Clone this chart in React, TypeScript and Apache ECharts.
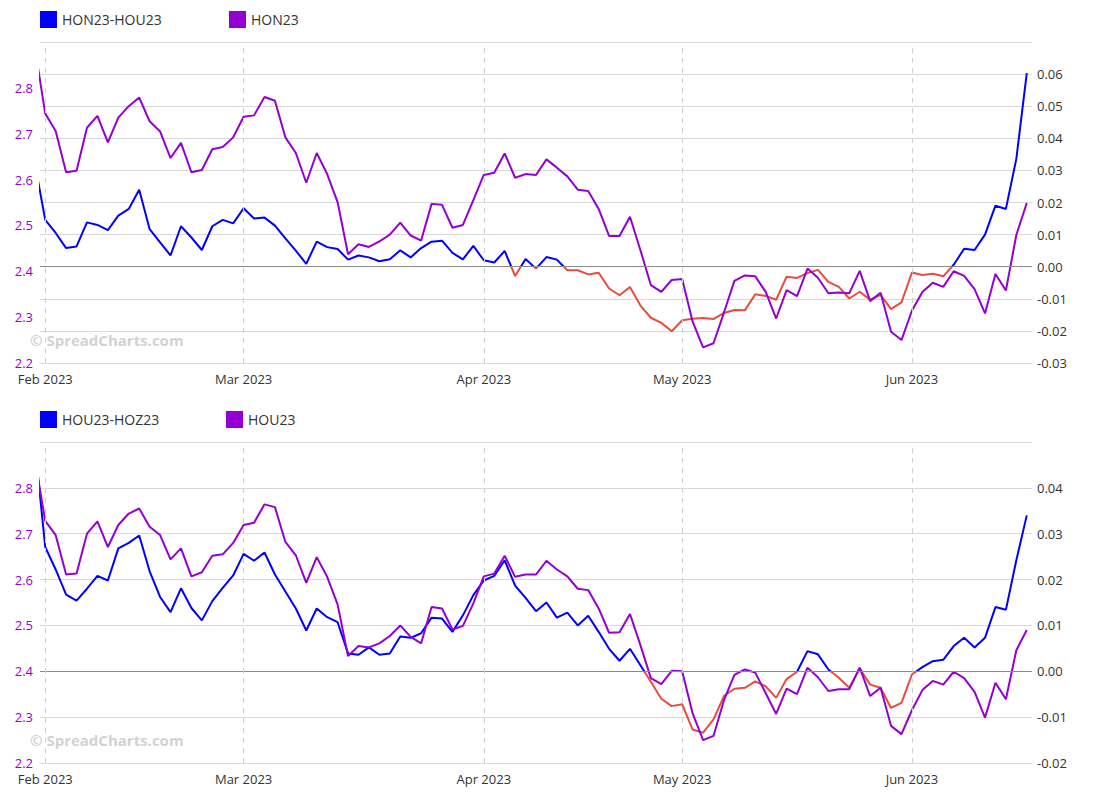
import React, { useEffect, useRef } from "react";
import * as echarts from "echarts";

// Trading days (NYMEX) 2023-01-31 .. 2023-06-16
const HOLIDAYS = ["2023-02-20", "2023-04-07", "2023-05-29"];
const MONTHS = ["Jan", "Feb", "Mar", "Apr", "May", "Jun", "Jul", "Aug", "Sep", "Oct", "Nov", "Dec"];
function tradingDays(start: string, end: string): string[] {
  const out: string[] = [];
  const d = new Date(start + "T00:00:00Z");
  const e = new Date(end + "T00:00:00Z");
  while (d <= e) {
    const s = d.toISOString().slice(0, 10);
    const wd = d.getUTCDay();
    if (wd !== 0 && wd !== 6 && HOLIDAYS.indexOf(s) < 0) out.push(s);
    d.setUTCDate(d.getUTCDate() + 1);
  }
  return out;
}
const dates = tradingDays("2023-01-31", "2023-06-16");

const topSpreadName = "HON23-HOU23";
const topPriceName = "HON23";
const bottomSpreadName = "HOU23-HOZ23";
const bottomPriceName = "HOU23";

const topSpread = [
  0.0323, 0.0146, 0.0105, 0.0058, 0.0063, 0.0138, 0.013, 0.0114, 0.0159, 0.018,
  0.024, 0.0117, 0.0076, 0.0035, 0.0126, 0.0091, 0.0052, 0.0126, 0.0146, 0.0135,
  0.0182, 0.015, 0.0153, 0.0128, 0.0088, 0.005, 0.0009, 0.0078, 0.0061, 0.0055,
  0.0022, 0.0035, 0.0029, 0.0017, 0.0023, 0.0051, 0.0029, 0.0058, 0.0078, 0.0081,
  0.0043, 0.0023, 0.0065, 0.002, 0.0013, 0.0049, -0.0029, 0.0024, -0.0006, 0.003,
  0.0022, -0.0011, -0.0011, -0.0024, -0.0019, -0.0068, -0.0089, -0.0063, -0.0121, -0.0159,
  -0.0175, -0.0201, -0.0167, -0.0162, -0.016, -0.0163, -0.0144, -0.0135, -0.0136, -0.0086,
  -0.0091, -0.0103, -0.0031, -0.0035, -0.002, -0.001, -0.0047, -0.0063, -0.0099, -0.0078,
  -0.0103, -0.0088, -0.0132, -0.0111, -0.0018, -0.0026, -0.0022, -0.003, 0.0006, 0.0056,
  0.0052, 0.01, 0.019, 0.018, 0.0336, 0.0603,
];

const topPrice = [
  2.889, 2.744, 2.706, 2.616, 2.619, 2.713, 2.739, 2.681, 2.735, 2.76,
  2.779, 2.727, 2.705, 2.647, 2.68, 2.616, 2.621, 2.666, 2.671, 2.692,
  2.737, 2.74, 2.78, 2.772, 2.692, 2.658, 2.593, 2.658, 2.612, 2.551,
  2.437, 2.459, 2.453, 2.465, 2.48, 2.506, 2.478, 2.467, 2.547, 2.545,
  2.495, 2.501, 2.555, 2.61, 2.615, 2.657, 2.604, 2.612, 2.61, 2.644,
  2.626, 2.607, 2.578, 2.575, 2.536, 2.477, 2.477, 2.519, 2.446, 2.37,
  2.355, 2.381, 2.383, 2.29, 2.234, 2.243, 2.31, 2.379, 2.391, 2.389,
  2.355, 2.297, 2.359, 2.346, 2.406, 2.386, 2.352, 2.354, 2.352, 2.401,
  2.335, 2.353, 2.268, 2.25, 2.314, 2.355, 2.375, 2.366, 2.4, 2.39,
  2.361, 2.308, 2.394, 2.358, 2.479, 2.549,
];

const bottomSpread = [
  0.0496, 0.0271, 0.0222, 0.0167, 0.0154, 0.018, 0.0208, 0.0198, 0.0268, 0.028,
  0.0296, 0.0218, 0.0162, 0.0129, 0.0181, 0.0138, 0.0111, 0.0153, 0.0182, 0.0209,
  0.0256, 0.0241, 0.0259, 0.0211, 0.0174, 0.0137, 0.0089, 0.0137, 0.0118, 0.0107,
  0.0039, 0.0036, 0.0052, 0.0036, 0.0039, 0.0076, 0.0073, 0.0083, 0.0117, 0.0115,
  0.0086, 0.0122, 0.0166, 0.0198, 0.0208, 0.0242, 0.0187, 0.016, 0.0131, 0.015,
  0.0117, 0.0128, 0.01, 0.0121, 0.0086, 0.0049, 0.0023, 0.0049, 0.0013, -0.0023,
  -0.006, -0.0076, -0.0072, -0.0127, -0.0134, -0.0105, -0.0054, -0.0038, -0.0036, -0.0022,
  -0.0033, -0.0058, -0.0017, -0.0001, 0.0044, 0.0037, 0.0004, -0.0014, -0.0036, 0.0006,
  -0.0029, -0.0036, -0.008, -0.0069, -0.0007, 0.0009, 0.0022, 0.0025, 0.0055, 0.0073,
  0.0052, 0.0073, 0.014, 0.0134, 0.0242, 0.034,
];

const bottomPrice = [
  2.862, 2.728, 2.697, 2.611, 2.613, 2.7, 2.727, 2.671, 2.719, 2.744,
  2.755, 2.715, 2.697, 2.644, 2.668, 2.607, 2.616, 2.652, 2.655, 2.68,
  2.719, 2.724, 2.764, 2.758, 2.682, 2.653, 2.593, 2.649, 2.606, 2.546,
  2.433, 2.455, 2.452, 2.461, 2.477, 2.5, 2.475, 2.461, 2.54, 2.537,
  2.491, 2.499, 2.548, 2.607, 2.613, 2.652, 2.606, 2.611, 2.611, 2.641,
  2.622, 2.607, 2.58, 2.577, 2.537, 2.484, 2.485, 2.525, 2.457, 2.385,
  2.372, 2.401, 2.4, 2.308, 2.25, 2.259, 2.337, 2.392, 2.404, 2.397,
  2.352, 2.307, 2.362, 2.35, 2.408, 2.387, 2.357, 2.361, 2.361, 2.408,
  2.346, 2.364, 2.281, 2.263, 2.315, 2.359, 2.379, 2.371, 2.399, 2.385,
  2.355, 2.299, 2.375, 2.339, 2.446, 2.49,
];

const BLUE = "#0000ff";
const RED = "#e74c3c";
const PURPLE = "#9400d3";
const FONT = "Open Sans";

export default function App() {
  const ref = useRef<HTMLDivElement>(null);

  useEffect(() => {
    document.body.style.margin = "0";
    if (!ref.current) return;
    const chart = echarts.init(ref.current, undefined, { renderer: "svg" });

    // month-start indices (first trading day of each month, skipping the lead-in day)
    const monthIdx: number[] = [];
    const monthLabel: Record<number, string> = {};
    dates.forEach((d, i) => {
      if (i > 0 && d.slice(5, 7) !== dates[i - 1].slice(5, 7)) {
        monthIdx.push(i);
        monthLabel[i] = MONTHS[parseInt(d.slice(5, 7), 10) - 1] + " " + d.slice(0, 4);
      }
    });

    const xMin = 0.5;
    const xMax = dates.length - 0.5;
    const pairs = (arr: number[]) => arr.map((v, i) => [i, v]);

    const xAxisCfg = (gridIndex: number) => ({
      type: "value",
      gridIndex,
      min: xMin,
      max: xMax,
      axisLine: { show: false },
      axisTick: { show: false },
      splitLine: { show: false },
      axisLabel: { show: false },
    });

    const priceAxis = (gridIndex: number) => ({
      type: "value",
      gridIndex,
      position: "left",
      min: 2.2,
      max: 2.9,
      interval: 0.1,
      axisLine: { show: false },
      axisTick: { show: false },
      splitLine: { show: false },
      axisLabel: {
        color: PURPLE,
        fontSize: 13,
        fontFamily: FONT,
        margin: 7,
        showMaxLabel: false,
        formatter: (v: number) => v.toFixed(1),
      },
    });

    const spreadAxis = (gridIndex: number, min: number, max: number) => ({
      type: "value",
      gridIndex,
      position: "right",
      min,
      max,
      interval: 0.01,
      axisLine: { show: false },
      axisTick: { show: false },
      splitLine: { show: true, lineStyle: { color: "#d9d9d9", width: 1 } },
      axisLabel: {
        color: "#333",
        fontSize: 13,
        fontFamily: FONT,
        margin: 5,
        showMaxLabel: false,
        formatter: (v: number) => v.toFixed(2),
      },
    });

    const monthLines = () => ({
      silent: true,
      symbol: ["none", "none"],
      lineStyle: { type: [5, 5], color: "#cfcfcf", width: 1 },
      label: {
        show: true,
        position: "start",
        distance: 9,
        color: "#333",
        fontSize: 13,
        fontFamily: FONT,
        formatter: (p: any) => monthLabel[Math.round(p.value)] || "",
      },
      emphasis: { disabled: true },
      data: monthIdx.map((i) => ({ xAxis: i })),
    });
    const zeroLine = () => ({
      silent: true,
      symbol: ["none", "none"],
      label: { show: false },
      lineStyle: { type: "solid", color: "#8a8a8a", width: 1 },
      emphasis: { disabled: true },
      data: [{ yAxis: 0 }],
    });

    const legendCfg = (name: string, color: string, left: number, top: number) => ({
      data: [{ name, itemStyle: { color } }],
      left,
      top,
      padding: 0,
      icon: "rect",
      itemWidth: 17,
      itemHeight: 17,
      selectedMode: false,
      textStyle: { color: "#333", fontSize: 14, fontFamily: FONT },
    });

    const watermark = (top: number) => ({
      type: "text",
      left: 30,
      top,
      silent: true,
      style: {
        text: "© SpreadCharts.com",
        fill: "#d2d2d2",
        font: `bold 15px "${FONT}"`,
      },
    });

    const signMap = (seriesIndex: number) => ({
      type: "piecewise",
      show: false,
      seriesIndex,
      dimension: 1,
      pieces: [
        { gte: -1, lt: 0, color: RED },
        { gte: 0, lte: 1, color: BLUE },
      ],
      outOfRange: { color: BLUE },
    });

    const option: any = {
      animation: false,
      backgroundColor: "#fff",
      textStyle: { fontFamily: FONT },
      grid: [
        { left: 40, right: 83, top: 42, height: 321 },
        { left: 40, right: 83, top: 442, height: 321 },
      ],
      legend: [
        legendCfg(topSpreadName, BLUE, 40, 11),
        legendCfg(topPriceName, PURPLE, 229, 11),
        legendCfg(bottomSpreadName, BLUE, 40, 411),
        legendCfg(bottomPriceName, PURPLE, 226, 411),
      ],
      graphic: [watermark(332), watermark(732)],
      xAxis: [xAxisCfg(0), xAxisCfg(1)],
      yAxis: [
        priceAxis(0),
        spreadAxis(0, -0.03, 0.07),
        priceAxis(1),
        spreadAxis(1, -0.02, 0.05),
      ],
      visualMap: [signMap(0), signMap(2)],
      series: [
        {
          name: topSpreadName,
          type: "line",
          xAxisIndex: 0,
          yAxisIndex: 1,
          data: pairs(topSpread),
          showSymbol: false,
          itemStyle: { color: BLUE },
          lineStyle: { width: 2 },
          markLine: zeroLine(),
          z: 3,
        },
        {
          name: topPriceName,
          type: "line",
          xAxisIndex: 0,
          yAxisIndex: 0,
          data: pairs(topPrice),
          showSymbol: false,
          itemStyle: { color: PURPLE },
          lineStyle: { width: 2, color: PURPLE },
          markLine: monthLines(),
          z: 4,
        },
        {
          name: bottomSpreadName,
          type: "line",
          xAxisIndex: 1,
          yAxisIndex: 3,
          data: pairs(bottomSpread),
          showSymbol: false,
          itemStyle: { color: BLUE },
          lineStyle: { width: 2 },
          markLine: zeroLine(),
          z: 3,
        },
        {
          name: bottomPriceName,
          type: "line",
          xAxisIndex: 1,
          yAxisIndex: 2,
          data: pairs(bottomPrice),
          showSymbol: false,
          itemStyle: { color: PURPLE },
          lineStyle: { width: 2, color: PURPLE },
          markLine: monthLines(),
          z: 4,
        },
      ],
    };

    chart.setOption(option);
    return () => chart.dispose();
  }, []);

  return <div ref={ref} style={{ width: 1115, height: 800 }} />;
}
